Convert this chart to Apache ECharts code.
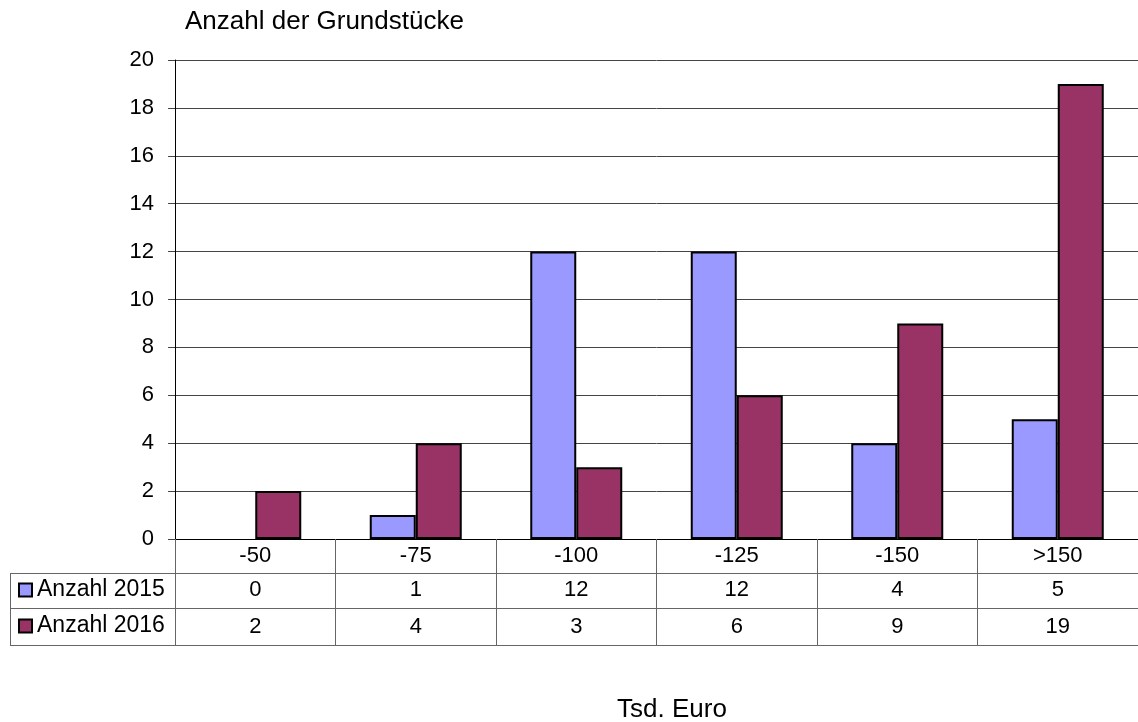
<!DOCTYPE html>
<html>
<head>
<meta charset="utf-8">
<script src="https://cdn.jsdelivr.net/npm/echarts@6/dist/echarts.min.js"></script>
<style>
  html, body { margin: 0; padding: 0; background: #fff; }
  #chart { width: 1138px; height: 722px; }
</style>
</head>
<body>
<div id="chart"></div>
<script>
var categories = ['-50', '-75', '-100', '-125', '-150', '>150'];
var anzahl2015 = [0, 1, 12, 12, 4, 5];
var anzahl2016 = [2, 4, 3, 6, 9, 19];
var seriesNames = ['Anzahl 2015', 'Anzahl 2016'];

var FONT = '"Liberation Sans", Arial, sans-serif';
var gridLeft = 175, gridTop = 60, gridWidth = 970, gridHeight = 479;
var row0 = 34, row1 = 35, row2 = 37;
var tableLine = '#666';

var chart = echarts.init(document.getElementById('chart'));

// a bar with value 0 is not drawn at all in the original
function barData(values) {
  return values.map(function (v) {
    return v === 0 ? { value: v, itemStyle: { borderWidth: 0 } } : v;
  });
}

function tableAxis(data, offset, len, margin) {
  return {
    type: 'category',
    position: 'bottom',
    data: data,
    offset: offset,
    axisLine: { show: true, lineStyle: { color: tableLine, width: 1 } },
    axisTick: { show: true, length: len, lineStyle: { color: tableLine, width: 1 } },
    axisLabel: { color: '#000', fontSize: 22, fontFamily: FONT, margin: margin },
    splitLine: { show: false }
  };
}

var yBottom = gridTop + gridHeight;
var option = {
  animation: false,
  textStyle: { fontFamily: FONT },
  title: [
    { text: 'Anzahl der Grundstücke', left: 180, top: 4,
      textStyle: { fontSize: 26, fontWeight: 'normal', color: '#000', fontFamily: FONT } },
    { text: 'Tsd. Euro', left: 667, top: 692, textAlign: 'center',
      textStyle: { fontSize: 26, fontWeight: 'normal', color: '#000', fontFamily: FONT } }
  ],
  legend: {
    orient: 'vertical',
    left: 18,
    top: 578,
    padding: 0,
    itemWidth: 13,
    itemHeight: 13,
    itemGap: 12,
    icon: 'rect',
    textStyle: { fontSize: 23, lineHeight: 24, color: '#000', fontFamily: FONT },
    data: seriesNames
  },
  grid: { left: gridLeft, top: gridTop, width: gridWidth, height: gridHeight },
  xAxis: [
    {
      type: 'category',
      data: categories,
      axisLine: { show: true, lineStyle: { color: '#000', width: 1 } },
      axisTick: { show: true, length: row0, lineStyle: { color: tableLine, width: 1 } },
      axisLabel: { color: '#000', fontSize: 22, fontFamily: FONT, margin: 6 }
    },
    tableAxis(anzahl2015.map(String), row0, row1, 6),
    tableAxis(anzahl2016.map(String), row0 + row1, row2, 8)
  ],
  yAxis: {
    type: 'value',
    min: 0,
    max: 20,
    interval: 2,
    axisLine: { show: true, lineStyle: { color: '#000', width: 1 } },
    axisTick: { show: true, length: 7, lineStyle: { color: '#444' } },
    axisLabel: { color: '#000', fontSize: 22, fontFamily: FONT, margin: 21 },
    splitLine: { show: true, lineStyle: { color: '#444', width: 1 } }
  },
  series: [
    {
      name: seriesNames[0], type: 'bar', data: barData(anzahl2015),
      barWidth: 46, barGap: '0%',
      itemStyle: { color: '#9999FF', borderColor: '#000', borderWidth: 2 }
    },
    {
      name: seriesNames[1], type: 'bar', data: barData(anzahl2016),
      barWidth: 46, barGap: '0%',
      itemStyle: { color: '#993366', borderColor: '#000', borderWidth: 2 }
    }
  ],
  graphic: [
    // left part of the data table (legend column)
    { type: 'line', shape: { x1: 10, y1: yBottom + row0 + 0.5, x2: gridLeft, y2: yBottom + row0 + 0.5 },
      style: { stroke: tableLine, lineWidth: 1 } },
    { type: 'line', shape: { x1: 10, y1: yBottom + row0 + row1 + 0.5, x2: gridLeft, y2: yBottom + row0 + row1 + 0.5 },
      style: { stroke: tableLine, lineWidth: 1 } },
    { type: 'line', shape: { x1: 10, y1: yBottom + row0 + row1 + row2 + 0.5, x2: 1138, y2: yBottom + row0 + row1 + row2 + 0.5 },
      style: { stroke: tableLine, lineWidth: 1 } },
    { type: 'line', shape: { x1: 10.5, y1: yBottom + row0, x2: 10.5, y2: yBottom + row0 + row1 + row2 },
      style: { stroke: tableLine, lineWidth: 1 } }
  ]
};

option && chart.setOption(option);
</script>
</body>
</html>
